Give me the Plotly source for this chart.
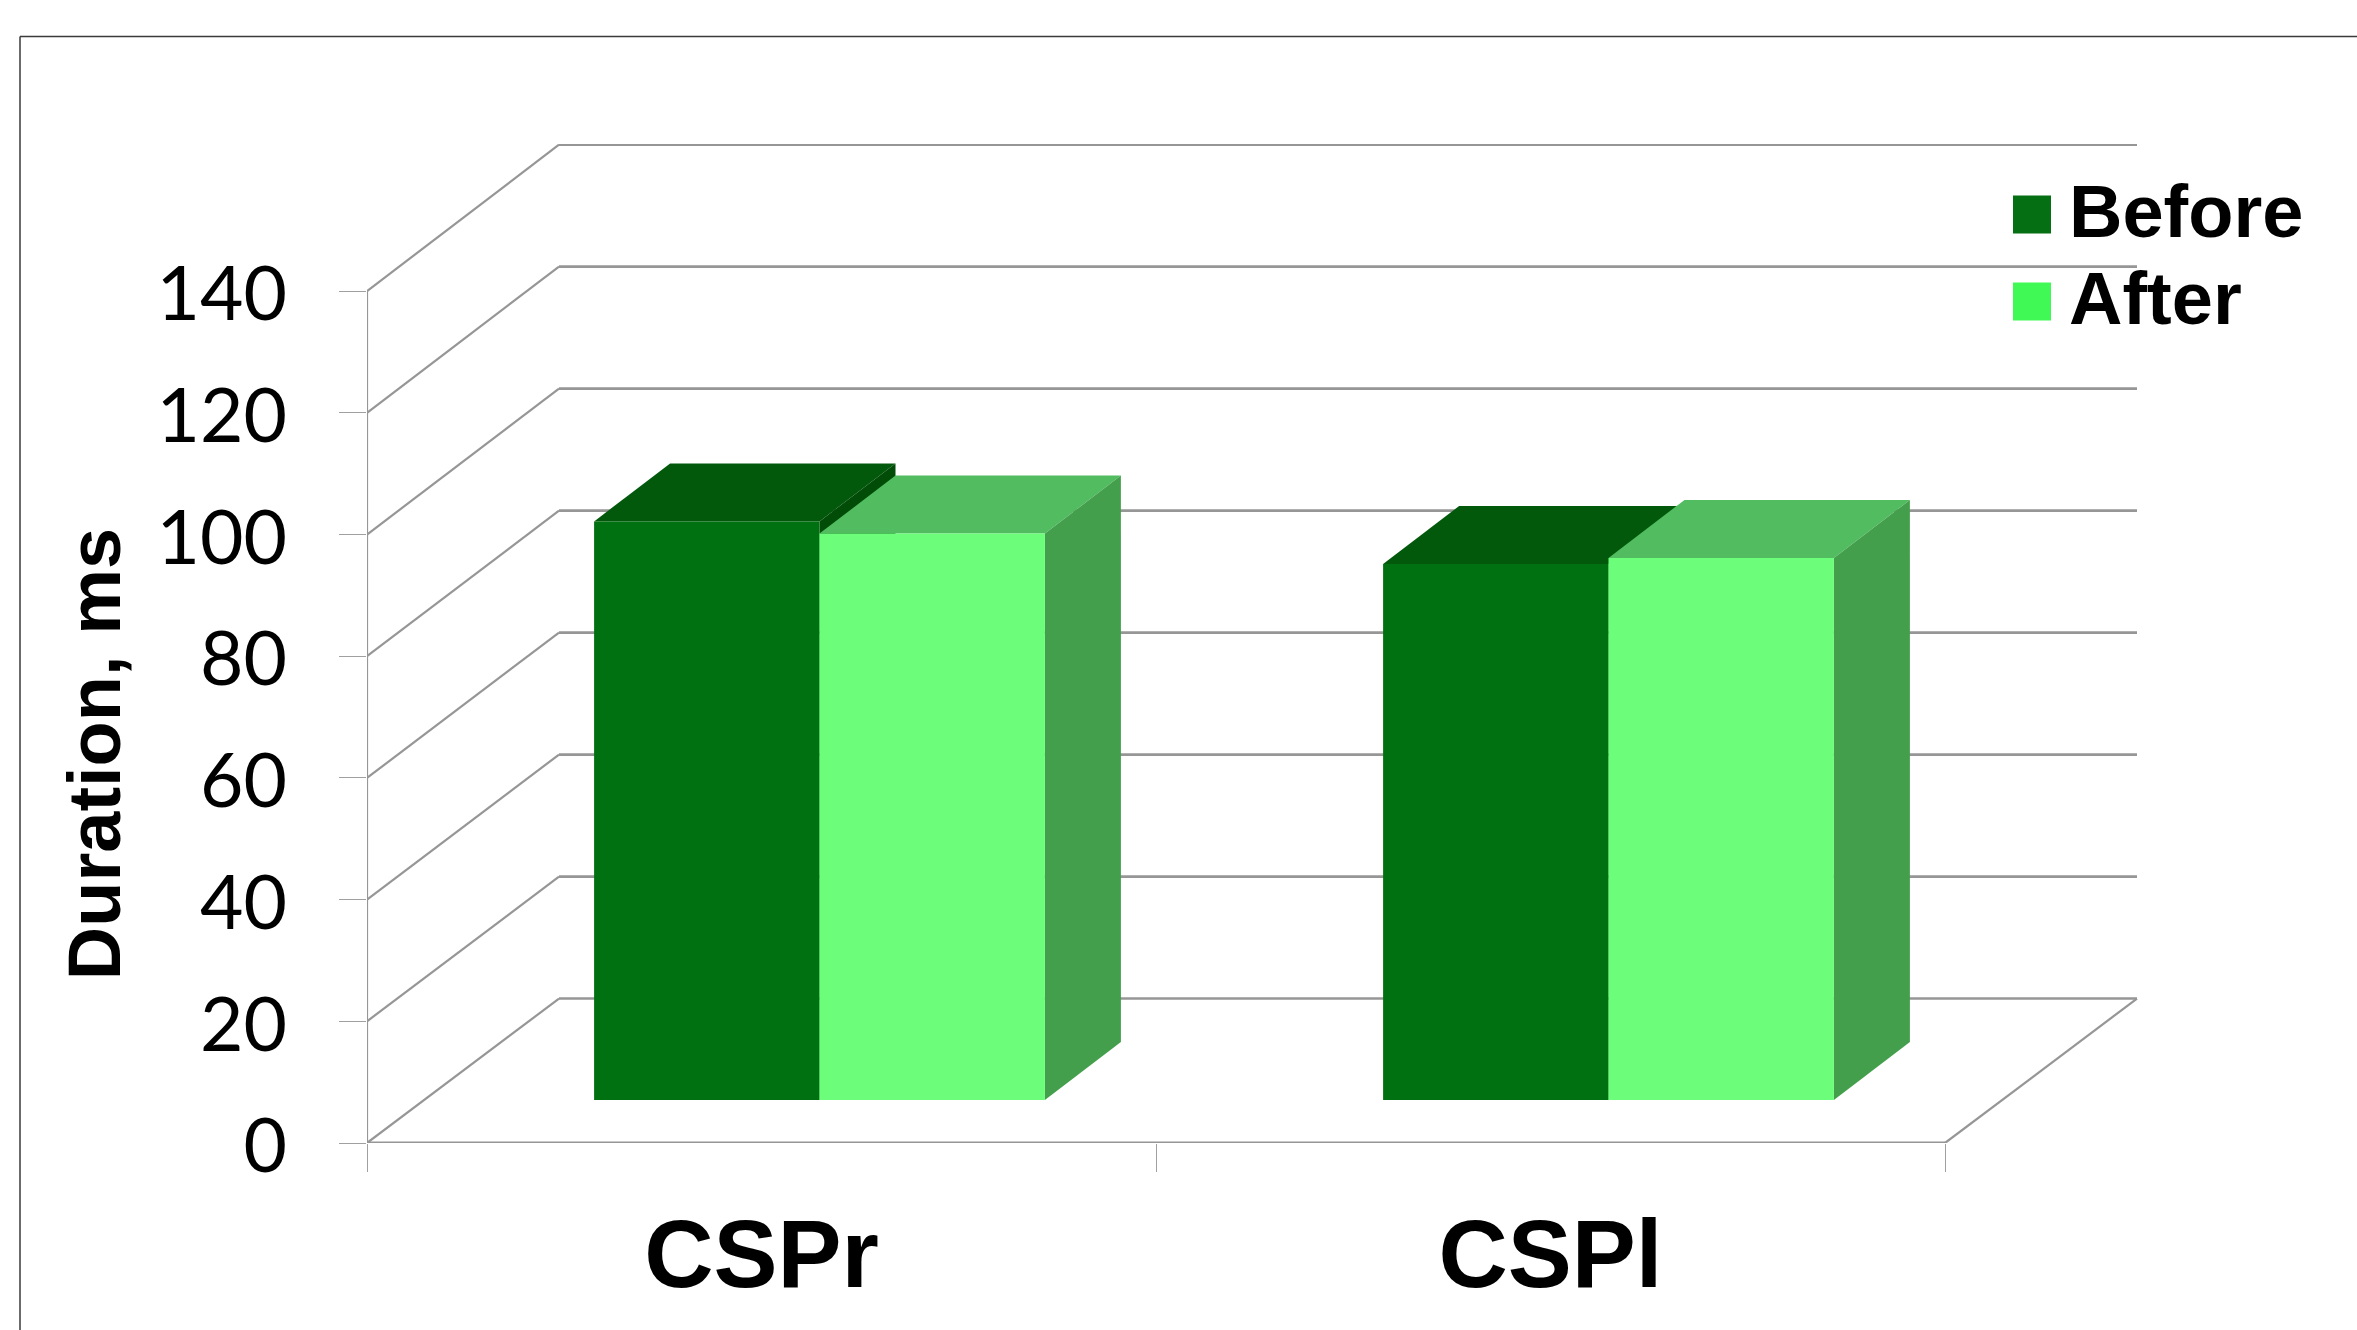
import plotly.graph_objects as go

# Chart data
categories = ["CSPr", "CSPl"]
before_values = [95.1, 88.1]
after_values = [93.1, 89.1]
y_ticks = [0, 20, 40, 60, 80, 100, 120, 140]

# Canvas and plot area, in pixels
W, H = 2357, 1330
LEFT, RIGHT, TOP, BOTTOM = 367, 2139, 143.5, 1143
X_PER_CAT = 789.0
Y_PER_UNIT = 6.0875

# Oblique projection offsets, in axis units
WALL_DX = 192 / X_PER_CAT
WALL_DY = 144.5 / Y_PER_UNIT
WALL_SCALE = 1.0025
BAR_DX = 76 / X_PER_CAT
BAR_DY = 58 / Y_PER_UNIT
BAR_BASE = 43 / Y_PER_UNIT
BAR_WIDTH = 225.4 / X_PER_CAT
GROUP_SHIFT = 58 / X_PER_CAT

x_min = -0.5
x_end = 1.5
x_max = x_min + (RIGHT - LEFT) / X_PER_CAT
y_max = (BOTTOM - TOP) / Y_PER_UNIT
y_top_tick = y_ticks[-1]

GRID = "#969696"
TICK = "#a0a0a0"
FRAME = "#3a3a3a"
TEXT_FONT = "Liberation Sans"

BEFORE = dict(front="#007110", top="#02590b", side="#014c07", key="#056f14")
AFTER = dict(front="#6cfd7a", top="#52bd60", side="#449f4d", key="#40f954")


# Paper coordinates are relative to the plot area
def px(x):
    return (x - LEFT) / (RIGHT - LEFT)


def py(y):
    return (BOTTOM - y) / (BOTTOM - TOP)


fig = go.Figure()


def line(xs, ys, color=GRID, width=2.2):
    fig.add_trace(go.Scatter(
        x=xs, y=ys, mode="lines", line=dict(color=color, width=width),
        showlegend=False, hoverinfo="skip", cliponaxis=False, zorder=0,
    ))


def face(xs, ys, color, name):
    fig.add_trace(go.Scatter(
        x=xs, y=ys, mode="lines", fill="toself", fillcolor=color,
        line=dict(color=color, width=0), name=name,
        showlegend=False, hoverinfo="skip", cliponaxis=False, zorder=1,
    ))


# Back wall rules, and the diagonals running across the side wall
for v in y_ticks:
    wall_y = v * WALL_SCALE + WALL_DY
    line([x_min + WALL_DX, x_end + WALL_DX], [wall_y, wall_y], width=2.6)
    line([x_min, x_min + WALL_DX], [v, wall_y])

# Floor front edge, right edge and the value axis line
line([x_min, x_end], [0, 0], width=2.8)
line([x_end, x_end + WALL_DX], [0, WALL_DY])
line([x_min, x_min], [0, y_top_tick], color=GRID, width=2.2)

# Top and side faces of each block, drawn back to front
series = [("Before", before_values, -BAR_WIDTH, BEFORE), ("After", after_values, 0, AFTER)]
for name, values, offset, colors in series:
    for i, value in enumerate(values):
        x0 = i + GROUP_SHIFT + offset
        x1 = x0 + BAR_WIDTH
        y1 = BAR_BASE + value
        face([x0, x1, x1 + BAR_DX, x0 + BAR_DX, x0],
             [y1, y1, y1 + BAR_DY, y1 + BAR_DY, y1], colors["top"], name)
        face([x1, x1 + BAR_DX, x1 + BAR_DX, x1, x1],
             [BAR_BASE, BAR_BASE + BAR_DY, y1 + BAR_DY, y1, BAR_BASE], colors["side"], name)

# Front faces sit above the projected faces
for name, values, offset, colors in series:
    fig.add_trace(go.Bar(
        x=list(range(len(categories))), y=values, base=BAR_BASE, name=name,
        width=BAR_WIDTH, offset=GROUP_SHIFT + offset,
        marker=dict(color=colors["front"], line=dict(width=0)),
        showlegend=False, zorder=2,
    ))

# Legend key
legend_rows = [("Before", BEFORE["key"], 195, 233, 211), ("After", AFTER["key"], 282, 320, 298)]
shapes = [
    dict(type="line", xref="paper", yref="paper", x0=px(20), x1=px(W), y0=py(36), y1=py(36),
         line=dict(color=FRAME, width=1.5)),
    dict(type="line", xref="paper", yref="paper", x0=px(20), x1=px(20), y0=py(36), y1=py(H),
         line=dict(color=FRAME, width=1.5)),
]
annotations = [
    dict(text="<b>Duration, ms</b>", textangle=-90, xref="paper", yref="paper",
         x=px(94), y=py(754), xanchor="center", yanchor="middle", showarrow=False,
         font=dict(family=TEXT_FONT, size=74, color="black")),
]
for label, color, y0, y1, yc in legend_rows:
    shapes.append(dict(type="rect", xref="paper", yref="paper", x0=px(2013), x1=px(2051),
                       y0=py(y0), y1=py(y1), fillcolor=color, line=dict(width=0)))
    annotations.append(dict(text=f"<b>{label}</b>", xref="paper", yref="paper",
                            x=px(2067), y=py(yc), xanchor="left", yanchor="middle",
                            showarrow=False, font=dict(family=TEXT_FONT, size=74, color="black")))

fig.update_layout(
    width=W, height=H, autosize=False,
    margin=dict(l=LEFT, r=W - RIGHT, t=TOP, b=H - BOTTOM, pad=0, autoexpand=False),
    paper_bgcolor="white", plot_bgcolor="rgba(0,0,0,0)",
    barmode="overlay", showlegend=False,
    shapes=shapes, annotations=annotations,
    xaxis=dict(
        automargin=False,
        range=[x_min, x_max], tickvals=list(range(len(categories))), ticktext=categories,
        ticks="outside", ticklen=28, tickcolor="rgba(0,0,0,0)", showgrid=False, zeroline=False,
        showline=False, tickfont=dict(family=TEXT_FONT, size=96, weight="bold", color="black"),
        minor=dict(tickvals=[-0.5, 0.5, 1.5], ticks="outside", ticklen=28, tickcolor=TICK,
                   tickwidth=1.4, showgrid=False),
    ),
    yaxis=dict(
        automargin=False,
        range=[0, y_max], tickvals=y_ticks, ticks="outside", ticklen=27, tickcolor=TICK,
        tickwidth=1.4, showgrid=False, zeroline=False, showline=False, ticklabelstandoff=37,
        ticklabelshift=3,
        tickfont=dict(family="Lato", size=75, color="black"),
    ),
)

fig.write_html("out.html", config=dict(displayModeBar=False))
